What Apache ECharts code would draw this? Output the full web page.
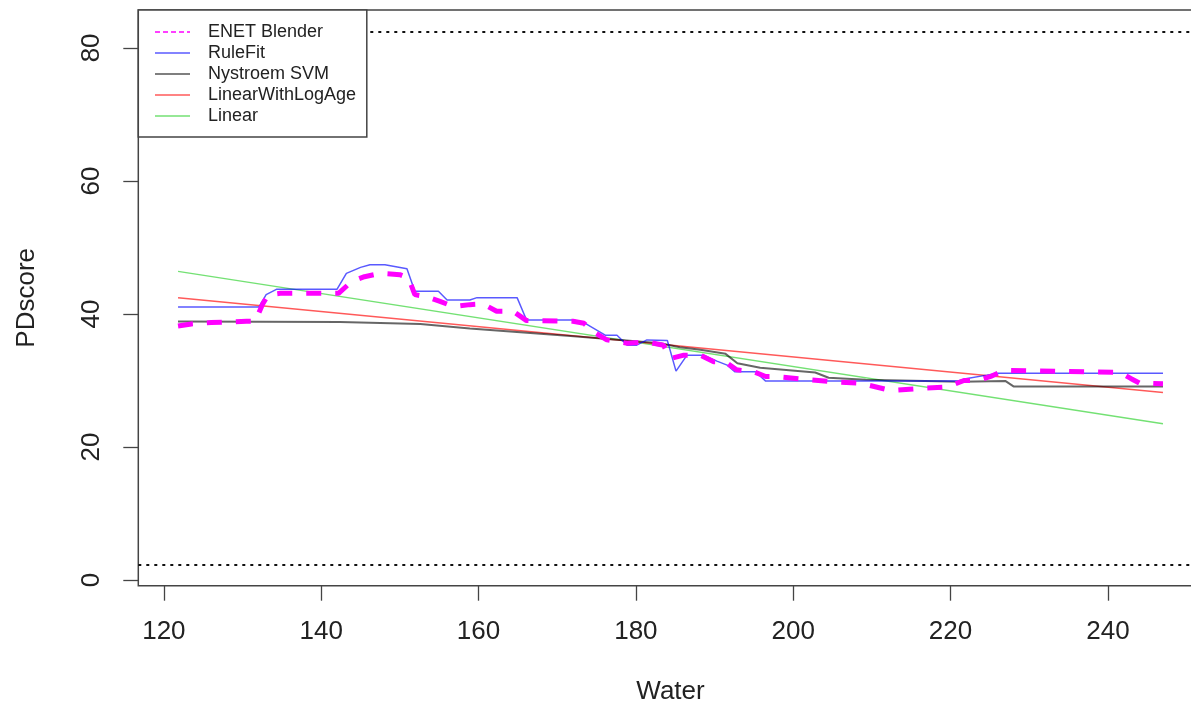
<!DOCTYPE html>
<html>
<head>
<meta charset="utf-8">
<script src="https://cdn.jsdelivr.net/npm/echarts@6/dist/echarts.min.js"></script>
<style>html,body{margin:0;padding:0;background:#fff;}#c{width:1191px;height:706px;}</style>
</head>
<body>
<div id="c"></div>
<script>
// ---- data ----
const seriesNames = ['ENET Blender', 'RuleFit', 'Nystroem SVM', 'LinearWithLogAge', 'Linear'];

const enetX = [121.8, 123.5, 126, 130.5, 131.6, 132.6, 133.3, 134.8, 142.2, 143.9, 145.5, 147.5, 150.0, 151.1, 151.9, 153.4, 155.1, 156.8, 158.9, 160.6, 162.3, 164.4, 166.1, 172.0, 173.4, 174.6, 176.3, 178.9, 181.4, 183.5, 184.4, 186.1, 188.2, 189.9, 191.4, 192.8, 195.0, 196.5, 197.5, 201.3, 205.2, 208.5, 212.4, 216.2, 219.6, 221.7, 223.5, 225.1, 226.8, 241.6, 242.9, 244.0, 247.0];
const enetY = [38.2, 38.5, 38.7, 38.9, 38.9, 41.6, 42.9, 43.1, 43.1, 44.9, 45.6, 46.1, 45.9, 45.4, 42.9, 42.6, 41.9, 41.1, 41.4, 41.5, 40.4, 40.4, 39.0, 38.9, 38.6, 37.3, 36.1, 35.6, 35.8, 35.3, 33.3, 33.8, 33.8, 32.8, 32.8, 31.6, 31.3, 30.6, 30.6, 30.2, 29.8, 29.6, 28.5, 28.8, 29.0, 30.0, 30.0, 30.6, 31.5, 31.2, 30.3, 29.6, 29.5];

const ruleX = [121.8, 132.1, 133.0, 134.3, 142.0, 143.2, 145.0, 146.2, 148.1, 150.9, 151.9, 154.9, 156.0, 158.9, 159.8, 164.9, 166.1, 172.0, 173.4, 176.1, 177.6, 178.9, 180.1, 181.4, 184.0, 185.1, 186.5, 188.6, 190.3, 191.6, 192.6, 195.2, 196.5, 220.8, 222.1, 224.6, 226.0, 247.0];
const ruleY = [41.05, 41.05, 42.9, 43.7, 43.7, 46.1, 47.0, 47.4, 47.4, 46.8, 43.4, 43.4, 42.1, 42.1, 42.45, 42.45, 39.1, 39.1, 38.7, 36.8, 36.8, 35.3, 35.3, 36.1, 36.0, 31.4, 33.8, 33.8, 32.9, 32.3, 31.3, 31.3, 29.9, 29.9, 30.3, 30.8, 31.1, 31.1];

const nysX = [121.8, 142.4, 152.6, 158.9, 171.7, 178.0, 183.1, 185.6, 188.2, 191.4, 192.9, 195.8, 202.8, 204.5, 209.2, 221.3, 227.0, 228.0, 247.0];
const nysY = [38.85, 38.8, 38.5, 37.8, 36.7, 36.1, 35.6, 35.0, 34.6, 34.0, 32.6, 31.9, 31.2, 30.4, 30.1, 29.8, 29.9, 29.1, 29.1];

const logAgeX = [121.8, 247.0];
const logAgeY = [42.45, 28.2];

const linearX = [121.8, 247.0];
const linearY = [46.4, 23.5];

const refLines = [2.35, 82.45];

const xTicks = [120, 140, 160, 180, 200, 220, 240];
const yTicks = [0, 20, 40, 60, 80];

// ---- build ----
const zip = (xs, ys) => xs.map((x, i) => [x, ys[i]]);
const FONT = 'Liberation Sans, Arial, Helvetica, sans-serif';
const colors = ['#ff00ff', 'rgba(0,0,255,0.65)', 'rgba(0,0,0,0.6)', 'rgba(255,0,0,0.65)', 'rgba(0,200,0,0.55)'];
const widths = [5, 1.5, 2, 1.5, 1.5];

const chart = echarts.init(document.getElementById('c'), null, {renderer: 'canvas'});

const legendRows = [32, 53, 74, 95, 116];
const legendGraphics = [{
  type: 'rect', z: 100,
  shape: {x: 138.3, y: 10, width: 228.5, height: 127},
  style: {fill: '#fff', stroke: '#444', lineWidth: 1.5}
}];
seriesNames.forEach((n, i) => {
  legendGraphics.push({
    type: 'line', z: 101,
    shape: {x1: 155, y1: legendRows[i], x2: 190, y2: legendRows[i]},
    style: {stroke: i === 2 ? 'rgba(0,0,0,0.5)' : colors[i], lineWidth: i === 2 ? 2.2 : 1.3, lineDash: i === 0 ? [5, 3] : null}
  });
  legendGraphics.push({
    type: 'text', z: 101,
    style: {x: 208, y: legendRows[i], text: n, font: '18px ' + FONT, fill: '#222', verticalAlign: 'middle', textAlign: 'left'}
  });
});

const mk = (name, xs, ys, idx, extra) => Object.assign({
  name: name, type: 'line', data: zip(xs, ys), symbol: 'none', silent: true,
  lineStyle: {color: colors[idx], width: widths[idx]},
  itemStyle: {color: colors[idx]}
}, extra || {});

chart.setOption({
  animation: false,
  backgroundColor: '#fff',
  grid: {left: 138.3, top: 10, right: -11.7, bottom: 120.3, show: true, borderColor: '#444', borderWidth: 1.5, backgroundColor: 'transparent', outerBoundsMode: 'none', containLabel: false},
  xAxis: {
    type: 'value', min: 116.75, max: 252.05,
    name: 'Water', nameLocation: 'middle', nameGap: 93,
    nameTextStyle: {fontFamily: FONT, fontSize: 26, color: '#222'},
    axisLine: {show: false, onZero: false},
    splitLine: {show: false},
    axisTick: {show: true, length: 15, customValues: xTicks, lineStyle: {color: '#444', width: 1.3}},
    axisLabel: {customValues: xTicks, margin: 33, fontFamily: FONT, fontSize: 26, color: '#222'}
  },
  yAxis: {
    type: 'value', min: -0.86, max: 85.7,
    name: 'PDscore', nameLocation: 'middle', nameGap: 98,
    nameTextStyle: {fontFamily: FONT, fontSize: 26, color: '#222'},
    axisLine: {show: false, onZero: false},
    splitLine: {show: false},
    axisTick: {show: true, length: 15, customValues: yTicks, lineStyle: {color: '#444', width: 1.3}},
    axisLabel: {customValues: yTicks, rotate: 90, margin: 33, fontFamily: FONT, fontSize: 26, color: '#222'}
  },
  series: [
    mk('Linear', linearX, linearY, 4, {
      markLine: {
        silent: true, symbol: 'none', label: {show: false},
        lineStyle: {color: '#111', type: [3, 5], width: 2},
        data: refLines.map(v => ({yAxis: v}))
      }
    }),
    mk('LinearWithLogAge', logAgeX, logAgeY, 3),
    mk('Nystroem SVM', nysX, nysY, 2),
    mk('RuleFit', ruleX, ruleY, 1),
    mk('ENET Blender', enetX, enetY, 0, {lineStyle: {color: colors[0], width: 5, type: [15, 14]}})
  ],
  graphic: legendGraphics
});
</script>
</body>
</html>
